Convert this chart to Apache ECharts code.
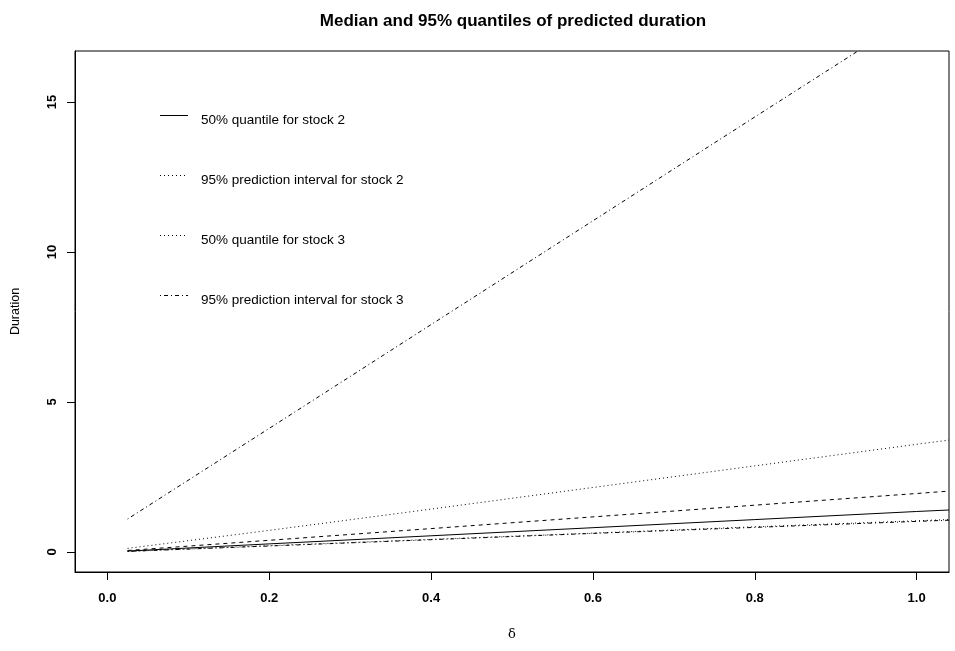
<!DOCTYPE html>
<html>
<head>
<meta charset="utf-8">
<script src="https://cdn.jsdelivr.net/npm/echarts@6/dist/echarts.min.js"></script>
<style>
  html, body { margin: 0; padding: 0; background: #fff; }
  #main { width: 955px; height: 651px; }
</style>
</head>
<body>
<div id="main"></div>
<script>
var chart = echarts.init(document.getElementById('main'));

var delta = [0.025, 0.2, 0.4, 0.6, 0.8, 1.0, 1.04];

// stock 2
var med2 = [0.03, 0.27, 0.54, 0.81, 1.08, 1.35, 1.40];
var up2  = [0.12, 0.72, 1.43, 2.15, 2.87, 3.59, 3.73];
var lo2  = [0.02, 0.21, 0.42, 0.63, 0.84, 1.04, 1.08];
// stock 3
var med3 = [0.05, 0.39, 0.78, 1.17, 1.56, 1.95, 2.03];
var up3  = [1.10, 4.12, 7.58, 11.04, 14.5, 17.95, 18.65];
var lo3  = [0.02, 0.20, 0.41, 0.62, 0.82, 1.02, 1.06];

var xTicks = [0, 0.2, 0.4, 0.6, 0.8, 1.0];
var yTicks = [0, 5, 10, 15];

var names = [
    '50% quantile for stock 2',
    '95% prediction interval for stock 2',
    '50% quantile for stock 3',
    '95% prediction interval for stock 3'
];

var DOTTED = [1, 3];
var DASHED = [4, 4];
var DOTDASH = [1, 3, 4, 3];

// legend samples (the legend as drawn in the original, stock 3 median shown dotted)
var legendDash = [null, DOTTED, DOTTED, DOTDASH];

function pairs(ys) {
    return delta.map(function (x, i) { return [x, ys[i]]; });
}

function line(name, ys, type) {
    return {
        name: name,
        type: 'line',
        data: pairs(ys),
        symbol: 'none',
        silent: true,
        lineStyle: { color: '#000', width: 1, type: type },
        itemStyle: { color: '#000' }
    };
}

var font = 'Liberation Sans, Arial, Helvetica, sans-serif';

var legendTop = 108, legendStep = 60;

option = {
    animation: false,
    backgroundColor: '#fff',
    title: {
        text: 'Median and 95% quantiles of predicted duration',
        left: 508,
        top: 8,
        textAlign: 'center',
        textStyle: { fontFamily: font, fontSize: 17, fontWeight: 'bold', color: '#000' }
    },
    legend: {
        orient: 'vertical',
        left: 160,
        top: legendTop,
        itemWidth: 28,
        itemHeight: 14,
        itemGap: legendStep - 14,
        selectedMode: false,
        icon: 'none',
        textStyle: { fontFamily: font, fontSize: 13.5, color: '#000', padding: [0, 0, 0, 3] },
        data: names
    },
    graphic: legendDash.map(function (d, i) {
        var y = legendTop + 7 + i * legendStep + 0.5;
        return {
            type: 'line',
            silent: true,
            shape: { x1: 160, y1: y, x2: 188, y2: y },
            style: { stroke: '#000', lineWidth: 1, lineDash: d }
        };
    }),
    grid: {
        left: 75,
        top: 51,
        right: 6,
        bottom: 79,
        outerBoundsMode: 'none',
        containLabel: false,
        show: true,
        borderColor: '#000',
        borderWidth: 1,
        backgroundColor: 'transparent'
    },
    xAxis: {
        type: 'value',
        min: -0.04,
        max: 1.04,
        name: 'δ',
        nameLocation: 'middle',
        nameGap: 56,
        nameTextStyle: { fontFamily: 'DejaVu Serif, serif', fontSize: 13, color: '#000' },
        splitLine: { show: false },
        axisLine: { show: true, onZero: false, lineStyle: { color: '#000' } },
        axisTick: { show: true, length: 8, customValues: xTicks, lineStyle: { color: '#000' } },
        axisLabel: {
            customValues: xTicks,
            margin: 20,
            fontFamily: font,
            fontSize: 13,
            fontWeight: 'bold',
            color: '#000',
            formatter: function (v) { return v.toFixed(1); }
        }
    },
    yAxis: {
        type: 'value',
        min: -0.667,
        max: 16.7,
        name: 'Duration',
        nameLocation: 'middle',
        nameGap: 53,
        nameRotate: 90,
        nameTextStyle: { fontFamily: font, fontSize: 12.5, color: '#000' },
        splitLine: { show: false },
        axisLine: { show: true, onZero: false, lineStyle: { color: '#000' } },
        axisTick: { show: true, length: 8, customValues: yTicks, lineStyle: { color: '#000' } },
        axisLabel: {
            customValues: yTicks,
            rotate: 90,
            margin: 16,
            fontFamily: font,
            fontSize: 13,
            fontWeight: 'bold',
            color: '#000'
        }
    },
    series: [
        line(names[0], med2, 'solid'),
        line(names[1], up2, DOTTED),
        line(names[1], lo2, DOTTED),
        line(names[2], med3, DASHED),
        line(names[3], up3, DOTDASH),
        line(names[3], lo3, DOTDASH)
    ]
};
chart.setOption(option);
</script>
</body>
</html>
